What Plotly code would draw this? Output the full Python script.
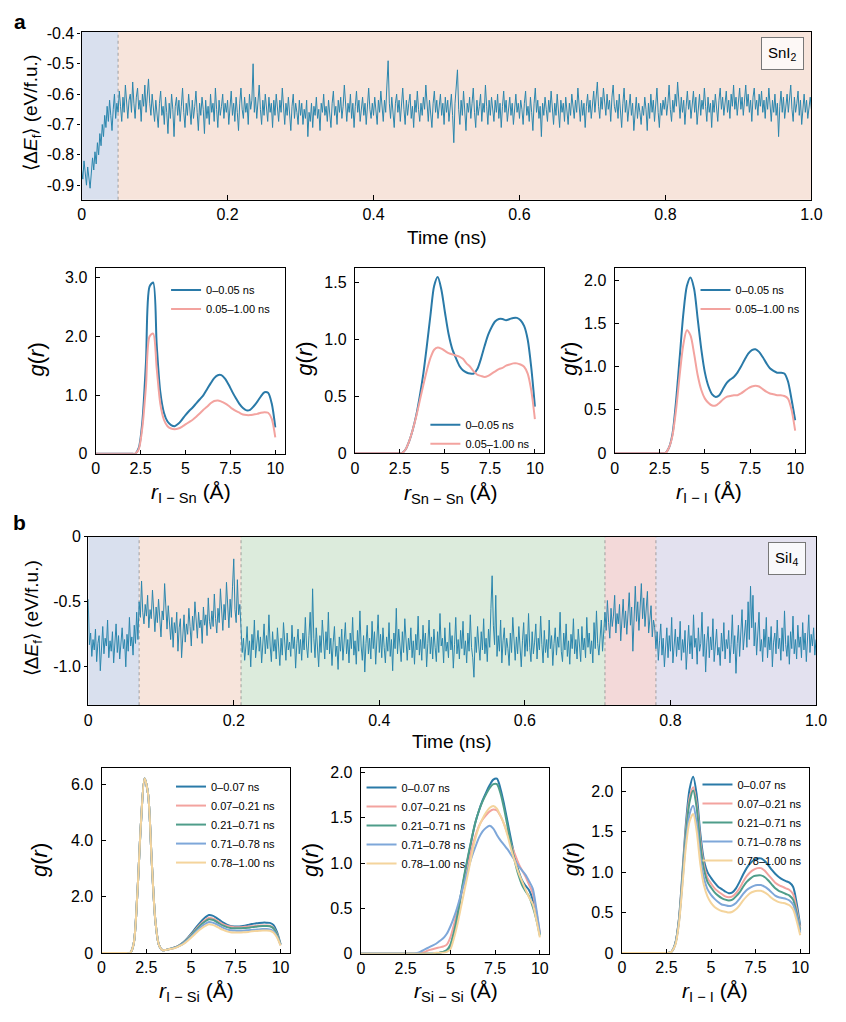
import numpy as np
import plotly.graph_objects as go

W, H = 846, 1022

# ------------------------------------------------------------------ data
# Panel a: SnI2 formation energy trace (eV/f.u.), sampled every 1/600 ns
E_SNI2_EQ = [
    -0.85, -0.88, -0.82, -0.87, -0.90, -0.84, -0.89, -0.91, -0.86, -0.81, -0.85, -0.79, -0.83, -0.76, -0.80, -0.73, -0.77, -0.70, -0.74, -0.67,
    -0.71, -0.64, -0.69, -0.62, -0.67, -0.72, -0.65, -0.60, -0.68, -0.63]
E_SNI2_PROD = [
    -0.66, -0.59, -0.64, -0.69, -0.61, -0.66, -0.57, -0.63, -0.68, -0.62,
    -0.60, -0.66, -0.56, -0.63, -0.68, -0.61, -0.58, -0.65, -0.62, -0.69, -0.60, -0.64, -0.57, -0.66, -0.61, -0.55, -0.63, -0.67, -0.60, -0.64,
    -0.69, -0.62, -0.66, -0.71, -0.63, -0.59, -0.67, -0.64, -0.70, -0.61, -0.66, -0.73, -0.63, -0.68, -0.60, -0.65, -0.74, -0.64, -0.61, -0.67,
    -0.62, -0.69, -0.64, -0.58, -0.66, -0.71, -0.63, -0.67, -0.60, -0.65, -0.70, -0.62, -0.68, -0.64, -0.59, -0.66, -0.72, -0.63, -0.67, -0.61,
    -0.65, -0.73, -0.62, -0.68, -0.64, -0.70, -0.60, -0.66, -0.63, -0.69, -0.58, -0.65, -0.71, -0.62, -0.67, -0.64, -0.60, -0.68, -0.63, -0.66,
    -0.62, -0.70, -0.64, -0.59, -0.67, -0.63, -0.69, -0.61, -0.66, -0.72, -0.63, -0.58, -0.65, -0.68, -0.61, -0.66, -0.63, -0.70, -0.60, -0.65,
    -0.62, -0.50, -0.66, -0.61, -0.68, -0.63, -0.57, -0.65, -0.70, -0.62, -0.67, -0.60, -0.64, -0.69, -0.61, -0.66, -0.63, -0.71, -0.62, -0.67,
    -0.60, -0.65, -0.69, -0.62, -0.66, -0.58, -0.64, -0.70, -0.63, -0.67, -0.61, -0.66, -0.72, -0.64, -0.60, -0.68, -0.63, -0.66, -0.70, -0.62,
    -0.67, -0.63, -0.70, -0.65, -0.68, -0.62, -0.74, -0.66, -0.69, -0.63, -0.71, -0.64, -0.67, -0.61, -0.68, -0.65, -0.72, -0.63, -0.66, -0.60,
    -0.67, -0.64, -0.69, -0.62, -0.66, -0.71, -0.63, -0.59, -0.67, -0.64, -0.70, -0.62, -0.66, -0.61, -0.68, -0.64, -0.57, -0.65, -0.69, -0.63,
    -0.66, -0.60, -0.68, -0.63, -0.71, -0.64, -0.59, -0.66, -0.62, -0.69, -0.64, -0.61, -0.67, -0.63, -0.70, -0.62, -0.58, -0.65, -0.68, -0.63,
    -0.67, -0.61, -0.65, -0.70, -0.62, -0.66, -0.59, -0.64, -0.69, -0.62, -0.66, -0.57, -0.49, -0.63, -0.68, -0.61, -0.66, -0.71, -0.63, -0.60,
    -0.66, -0.62, -0.69, -0.64, -0.58, -0.65, -0.70, -0.62, -0.67, -0.63, -0.60, -0.68, -0.64, -0.71, -0.62, -0.66, -0.59, -0.65, -0.69, -0.63,
    -0.67, -0.61, -0.65, -0.57, -0.64, -0.69, -0.62, -0.66, -0.71, -0.63, -0.59, -0.66, -0.62, -0.68, -0.64, -0.60, -0.67, -0.63, -0.70, -0.61,
    -0.66, -0.62, -0.69, -0.64, -0.60, -0.67, -0.76, -0.63, -0.58, -0.52, -0.65, -0.70, -0.62, -0.67, -0.59, -0.64, -0.72, -0.63, -0.66, -0.61,
    -0.68, -0.63, -0.58, -0.66, -0.71, -0.62, -0.67, -0.64, -0.60, -0.69, -0.63, -0.66, -0.57, -0.64, -0.70, -0.62, -0.67, -0.61, -0.65, -0.69,
    -0.62, -0.66, -0.60, -0.68, -0.63, -0.71, -0.64, -0.59, -0.66, -0.62, -0.69, -0.64, -0.61, -0.67, -0.63, -0.70, -0.65, -0.60, -0.66, -0.63,
    -0.68, -0.62, -0.65, -0.70, -0.63, -0.59, -0.67, -0.64, -0.69, -0.61, -0.66, -0.72, -0.63, -0.58, -0.66, -0.62, -0.68, -0.64, -0.74, -0.63,
    -0.67, -0.61, -0.65, -0.69, -0.62, -0.66, -0.59, -0.64, -0.70, -0.63, -0.67, -0.60, -0.65, -0.71, -0.62, -0.66, -0.63, -0.69, -0.61, -0.65,
    -0.70, -0.63, -0.67, -0.60, -0.65, -0.68, -0.62, -0.66, -0.58, -0.64, -0.69, -0.62, -0.67, -0.63, -0.71, -0.64, -0.60, -0.66, -0.62, -0.68,
    -0.63, -0.59, -0.66, -0.61, -0.56, -0.64, -0.68, -0.61, -0.65, -0.58, -0.63, -0.67, -0.60, -0.65, -0.62, -0.69, -0.61, -0.57, -0.64, -0.66,
    -0.62, -0.68, -0.60, -0.65, -0.71, -0.63, -0.58, -0.66, -0.62, -0.69, -0.64, -0.60, -0.67, -0.63, -0.72, -0.65, -0.61, -0.68, -0.63, -0.66,
    -0.70, -0.64, -0.67, -0.61, -0.65, -0.72, -0.63, -0.68, -0.60, -0.66, -0.62, -0.69, -0.64, -0.58, -0.66, -0.71, -0.63, -0.67, -0.62, -0.65,
    -0.61, -0.67, -0.63, -0.57, -0.65, -0.69, -0.62, -0.66, -0.60, -0.64, -0.56, -0.63, -0.68, -0.61, -0.66, -0.62, -0.70, -0.64, -0.59, -0.65,
    -0.62, -0.68, -0.63, -0.59, -0.66, -0.61, -0.70, -0.64, -0.60, -0.67, -0.62, -0.65, -0.58, -0.64, -0.69, -0.61, -0.66, -0.63, -0.71, -0.62,
    -0.66, -0.60, -0.64, -0.69, -0.62, -0.58, -0.65, -0.61, -0.67, -0.63, -0.59, -0.66, -0.62, -0.68, -0.60, -0.64, -0.57, -0.65, -0.61, -0.67,
    -0.62, -0.58, -0.65, -0.61, -0.67, -0.63, -0.57, -0.64, -0.60, -0.66, -0.62, -0.69, -0.61, -0.58, -0.65, -0.62, -0.67, -0.60, -0.64, -0.59,
    -0.66, -0.62, -0.68, -0.61, -0.65, -0.58, -0.64, -0.69, -0.62, -0.66, -0.60, -0.67, -0.63, -0.74, -0.64, -0.59, -0.66, -0.61, -0.68, -0.63,
    -0.60, -0.66, -0.62, -0.57, -0.65, -0.69, -0.61, -0.66, -0.63, -0.59, -0.67, -0.62, -0.70, -0.64, -0.60, -0.66, -0.62, -0.68, -0.63, -0.61,
    -0.65]
SNI2_BOUNDS = [0.0, 0.05, 1.0]
SNI2_PHASE_COLORS = ["#d9e0ee", "#f7e4db"]

# Panel b: SiI4 formation energy trace (eV/f.u.), one list per phase, every 1/600 ns
E_SII4_PH1 = [
    -0.48, -0.83, -0.74, -0.92, -0.79, -0.87, -0.71, -0.96, -0.82, -0.76, -1.03, -0.85, -0.69, -0.90, -0.78, -0.84, -0.64, -0.93, -0.80, -0.88,
    -0.73, -0.97, -0.81, -0.67, -0.89, -0.76, -0.94, -0.83, -0.70, -0.86, -0.79, -1.00, -0.75, -0.88, -0.62, -0.84, -0.77, -0.91, -0.68, -0.82,
    -0.58, -0.79]
E_SII4_PH2 = [
    -0.50, -0.62, -0.34, -0.58, -0.67, -0.52, -0.61, -0.45, -0.70, -0.56, -0.63, -0.41, -0.59, -0.73, -0.54, -0.66, -0.48, -0.60, -0.77, -0.57,
    -0.64, -0.36, -0.60, -0.71, -0.53, -0.68, -0.79, -0.62, -0.85, -0.66, -0.74, -0.58, -0.88, -0.70, -0.63, -0.93, -0.72, -0.60, -0.81, -0.67,
    -0.75, -0.55, -0.69, -0.84, -0.61, -0.72, -0.50, -0.66, -0.78, -0.58, -0.70, -0.64, -0.82, -0.54, -0.68, -0.60, -0.76, -0.47, -0.65, -0.71,
    -0.57, -0.69, -0.44, -0.63, -0.74, -0.55, -0.66, -0.40, -0.61, -0.72, -0.52, -0.64, -0.35, -0.59, -0.70, -0.48, -0.62, -0.38, -0.17, -0.56,
    -0.66, -0.33, -0.60, -0.52]
E_SII4_PH3 = [
    -0.72, -0.89, -0.78, -0.95, -0.84, -0.69, -0.91, -0.80, -1.00, -0.75, -0.87, -0.64, -0.93, -0.81, -0.72, -0.88, -0.77, -0.97, -0.83, -0.67,
    -0.90, -0.76, -0.86, -0.60, -0.84, -0.96, -0.73, -0.88, -0.79, -0.94, -0.70, -0.85, -0.99, -0.78, -0.91, -0.66, -0.83, -0.95, -0.74, -0.87,
    -0.81, -0.92, -0.68, -0.86, -0.77, -1.01, -0.82, -0.71, -0.90, -0.79, -0.95, -0.74, -0.87, -0.62, -0.84, -0.93, -0.76, -0.58, -0.89, -0.40,
    -0.78, -0.93, -0.70, -0.85, -1.00, -0.76, -0.89, -0.64, -0.82, -0.94, -0.73, -0.87, -0.58, -0.90, -0.78, -0.99, -0.81, -0.69, -0.92, -0.84,
    -1.02, -0.77, -0.88, -0.71, -0.95, -0.83, -0.66, -0.90, -0.79, -0.97, -0.74, -0.86, -0.62, -0.91, -0.80, -0.98, -0.72, -0.88, -0.57, -0.84,
    -0.95, -0.76, -1.04, -0.82, -0.68, -0.90, -0.78, -0.94, -0.65, -0.86, -0.73, -0.98, -0.81, -0.60, -0.89, -0.75, -0.93, -0.70, -0.85, -0.97,
    -0.77, -0.88, -0.66, -0.92, -0.79, -1.03, -0.74, -0.86, -0.55, -0.90, -0.71, -0.84, -0.96, -0.73, -0.89, -0.63, -0.83, -0.95, -0.78, -0.87,
    -0.70, -0.93, -0.80, -0.98, -0.75, -0.87, -0.61, -0.91, -0.79, -0.95, -0.68, -0.86, -0.74, -1.00, -0.82, -0.64, -0.90, -0.77, -0.94, -0.71,
    -0.85, -0.96, -0.73, -0.89, -0.59, -0.84, -0.78, -0.97, -0.70, -0.88, -0.81, -0.93, -0.66, -0.87, -0.76, -1.01, -0.83, -0.62, -0.90, -0.79,
    -0.94, -0.72, -0.86, -0.65, -0.91, -0.80, -0.97, -0.74, -0.88, -0.60, -0.85, -0.93, -1.08, -0.77, -0.89, -0.69, -0.84, -0.95, -0.73, -0.87,
    -0.63, -0.90, -0.78, -0.96, -0.71, -0.85, -0.55, -0.30, -0.68, -0.83, -0.45, -0.92, -0.76, -0.88, -0.64, -0.97, -0.80, -0.70, -0.91, -0.78,
    -0.86, -0.99, -0.74, -0.89, -0.62, -0.84, -0.95, -0.77, -0.90, -0.69, -0.86, -1.00, -0.80, -0.66, -0.92, -0.75, -0.88, -0.59, -0.85, -0.96,
    -0.73, -0.90, -0.81, -0.67, -0.94, -0.78, -0.87, -0.61, -0.83, -0.97, -0.72, -0.89, -0.79, -0.93, -0.64, -0.86, -0.76, -0.99, -0.82, -0.70,
    -0.91, -0.77, -0.85, -0.58, -0.88, -0.96, -0.74, -0.87, -0.67, -0.92, -0.80, -0.98, -0.75, -0.86, -0.63, -0.90, -0.79, -0.94, -0.71, -0.84,
    -0.96, -0.69, -0.87, -0.78, -0.93, -0.62, -0.85, -0.74, -0.90, -0.80, -0.97, -0.66, -0.86, -0.57, -0.82, -0.91, -0.72, -0.64, -0.88, -0.76]
E_SII4_PH4 = [
    -0.58, -0.72, -0.49, -0.66, -0.78, -0.55, -0.69, -0.61, -0.45, -0.74, -0.59, -0.67, -0.52, -0.80, -0.63, -0.48, -0.70, -0.57, -0.75, -0.62,
    -0.43, -0.68, -0.54, -0.88, -0.60, -0.38, -0.65, -0.50, -0.72, -0.56, -0.36, -0.63, -0.47, -0.69, -0.58, -0.42, -0.74, -0.61, -0.53, -0.77,
    -0.64, -0.70]
E_SII4_PH5 = [
    -0.86, -0.73, -0.95, -0.80, -0.67, -0.91, -0.78, -1.00, -0.84, -0.70, -0.93, -0.76, -0.88, -0.62, -0.97, -0.81, -0.71, -0.92, -0.77, -0.87,
    -0.65, -0.95, -0.79, -0.89, -0.72, -1.02, -0.83, -0.68, -0.90, -0.76, -0.94, -0.60, -0.85, -0.78, -0.98, -0.70, -0.88, -0.82, -0.58, -0.92,
    -0.75, -1.04, -0.81, -0.69, -0.93, -0.77, -0.87, -0.63, -0.96, -0.80, -0.71, -0.91, -0.85, -0.99, -0.74, -0.88, -0.66, -0.94, -0.79, -0.86,
    -0.72, -0.97, -0.83, -0.60, -0.90, -0.76, -1.05, -0.82, -0.68, -0.92, -0.78, -0.56, -0.87, -0.73, -0.64, -0.85, -0.50, -0.79, -0.38, -0.70,
    -0.45, -0.84, -0.66, -0.91, -0.75, -0.58, -0.88, -0.79, -0.96, -0.71, -0.85, -0.62, -0.93, -0.77, -0.87, -0.69, -1.00, -0.81, -0.74, -0.90,
    -0.64, -0.86, -0.78, -0.95, -0.70, -0.88, -0.57, -0.83, -0.92, -0.76, -0.98, -0.73, -0.86, -0.61, -0.90, -0.79, -0.94, -0.68, -0.85, -0.77,
    -0.93, -0.66, -0.87, -0.74, -0.96, -0.80, -0.60, -0.89, -0.75, -0.84, -0.70, -0.91, -0.79]
SII4_BOUNDS = [0.0, 0.07, 0.21, 0.71, 0.78, 1.0]
SII4_PHASE_COLORS = ["#d9e0ee", "#f7e4db", "#dcebdc", "#f3d9d9", "#e3e1ef"]

# Radial distribution functions, r = 0 ... 10 Angstrom
R = [0.0, 0.2, 0.4, 0.6, 0.8, 1.0, 1.2, 1.4, 1.6, 1.8,
     2.0, 2.2, 2.4, 2.6, 2.8, 3.0, 3.2, 3.4, 3.6, 3.8,
     4.0, 4.2, 4.4, 4.6, 4.8, 5.0, 5.2, 5.4, 5.6, 5.8,
     6.0, 6.2, 6.4, 6.6, 6.8, 7.0, 7.2, 7.4, 7.6, 7.8,
     8.0, 8.2, 8.4, 8.6, 8.8, 9.0, 9.2, 9.4, 9.6, 9.8, 10.0]
Z10 = [0.0] * 10

# SnI2
G_ISN_A = Z10 + [0, 0, 0.10, 0.55, 1.55, 2.85, 2.92, 1.85, 1.05, 0.70,
                 0.55, 0.49, 0.47, 0.51, 0.58, 0.66, 0.73, 0.79, 0.86, 0.93,
                 1.00, 1.10, 1.20, 1.29, 1.34, 1.34, 1.28, 1.18, 1.06, 0.95,
                 0.85, 0.78, 0.74, 0.75, 0.81, 0.89, 0.98, 1.05, 1.04, 0.86, 0.45]
G_ISN_B = Z10 + [0, 0, 0.08, 0.45, 1.15, 2.00, 2.05, 1.45, 0.85, 0.58,
                 0.47, 0.43, 0.42, 0.43, 0.46, 0.50, 0.54, 0.58, 0.63, 0.69,
                 0.75, 0.80, 0.86, 0.90, 0.91, 0.89, 0.86, 0.82, 0.77, 0.73,
                 0.70, 0.67, 0.66, 0.66, 0.67, 0.68, 0.70, 0.71, 0.70, 0.60, 0.28]
G_SNSN_A = Z10 + [0, 0, 0, 0, 0.03, 0.10, 0.20, 0.33, 0.50, 0.70,
                  0.95, 1.22, 1.47, 1.55, 1.44, 1.24, 1.05, 0.92, 0.84, 0.77,
                  0.73, 0.71, 0.70, 0.70, 0.74, 0.83, 0.94, 1.04, 1.11, 1.16,
                  1.18, 1.18, 1.17, 1.18, 1.19, 1.19, 1.17, 1.12, 1.00, 0.75, 0.41]
G_SNSN_B = Z10 + [0, 0, 0, 0, 0.03, 0.10, 0.20, 0.32, 0.46, 0.60,
                  0.73, 0.84, 0.91, 0.93, 0.92, 0.90, 0.88, 0.87, 0.86, 0.85,
                  0.83, 0.79, 0.76, 0.72, 0.69, 0.68, 0.67, 0.68, 0.70, 0.72,
                  0.74, 0.75, 0.77, 0.78, 0.79, 0.79, 0.78, 0.76, 0.70, 0.55, 0.30]
G_II1_A = Z10 + [0, 0, 0, 0, 0, 0.06, 0.22, 0.60, 1.10, 1.60,
                 1.93, 2.03, 1.90, 1.55, 1.20, 0.93, 0.77, 0.68, 0.65, 0.67,
                 0.74, 0.81, 0.85, 0.88, 0.93, 1.00, 1.08, 1.15, 1.19, 1.20,
                 1.17, 1.11, 1.04, 0.98, 0.95, 0.93, 0.93, 0.92, 0.83, 0.62, 0.38]
G_II1_B = Z10 + [0, 0, 0, 0, 0, 0.06, 0.20, 0.50, 0.90, 1.25,
                 1.42, 1.36, 1.15, 0.90, 0.73, 0.63, 0.58, 0.55, 0.55, 0.58,
                 0.62, 0.65, 0.66, 0.67, 0.67, 0.69, 0.72, 0.75, 0.77, 0.78,
                 0.77, 0.74, 0.71, 0.69, 0.68, 0.67, 0.67, 0.66, 0.63, 0.50, 0.26]

# SiI4
ISI_HEAD = [0, 0, 0, 0, 0, 0, 0, 0, 0.0, 0.35,
            2.10, 4.60, 6.20, 5.65, 3.30, 1.20, 0.30, 0.10, 0.11, 0.14]
G_ISI_1 = ISI_HEAD + [0.18, 0.23, 0.30, 0.40, 0.53, 0.68, 0.84, 1.00, 1.15, 1.27,
                      1.35, 1.33, 1.26, 1.17, 1.08, 1.01, 0.96, 0.94, 0.94, 0.95,
                      0.97, 1.00, 1.03, 1.05, 1.07, 1.08, 1.08, 1.07, 1.00, 0.75, 0.32]
G_ISI_2 = ISI_HEAD + [0.18, 0.23, 0.29, 0.38, 0.50, 0.64, 0.79, 0.94, 1.07, 1.18,
                      1.25, 1.23, 1.17, 1.09, 1.02, 0.97, 0.94, 0.92, 0.92, 0.92,
                      0.93, 0.94, 0.95, 0.96, 0.97, 0.98, 0.98, 0.97, 0.90, 0.68, 0.30]
G_ISI_3 = ISI_HEAD + [0.18, 0.22, 0.28, 0.37, 0.49, 0.62, 0.76, 0.90, 1.03, 1.13,
                      1.20, 1.18, 1.12, 1.04, 0.97, 0.92, 0.89, 0.88, 0.88, 0.88,
                      0.89, 0.90, 0.92, 0.93, 0.95, 0.96, 0.96, 0.95, 0.88, 0.66, 0.30]
G_ISI_4 = ISI_HEAD + [0.17, 0.21, 0.27, 0.35, 0.46, 0.58, 0.71, 0.84, 0.95, 1.04,
                      1.10, 1.08, 1.03, 0.96, 0.89, 0.84, 0.81, 0.80, 0.79, 0.79,
                      0.80, 0.81, 0.82, 0.83, 0.84, 0.85, 0.85, 0.84, 0.78, 0.60, 0.28]
G_ISI_5 = ISI_HEAD + [0.16, 0.20, 0.26, 0.33, 0.43, 0.54, 0.66, 0.78, 0.88, 0.96,
                      1.02, 1.00, 0.95, 0.88, 0.82, 0.77, 0.74, 0.73, 0.73, 0.73,
                      0.74, 0.75, 0.77, 0.78, 0.79, 0.80, 0.80, 0.79, 0.73, 0.56, 0.26]

G_SISI_1 = Z10 + [0] * 10 + [0, 0, 0.01, 0.02, 0.03, 0.08, 0.22, 0.40, 0.65, 0.87,
                             1.07, 1.27, 1.45, 1.58, 1.69, 1.78, 1.86, 1.92, 1.93, 1.82,
                             1.65, 1.45, 1.25, 1.07, 0.92, 0.81, 0.75, 0.70, 0.60, 0.42, 0.22]
G_SISI_2 = Z10 + [0, 0, 0, 0, 0, 0, 0, 0.01, 0.02, 0.04,
                  0.05, 0.06, 0.07, 0.08, 0.10, 0.18, 0.32, 0.48, 0.65, 0.80,
                  0.98, 1.16, 1.30, 1.41, 1.48, 1.53, 1.57, 1.59, 1.58, 1.52,
                  1.43, 1.32, 1.20, 1.10, 1.00, 0.92, 0.85, 0.76, 0.67, 0.47, 0.23]
G_SISI_3 = Z10 + [0] * 10 + [0, 0, 0.01, 0.02, 0.04, 0.10, 0.24, 0.43, 0.67, 0.89,
                             1.09, 1.28, 1.45, 1.58, 1.68, 1.76, 1.83, 1.87, 1.87, 1.77,
                             1.60, 1.40, 1.20, 1.02, 0.87, 0.76, 0.69, 0.63, 0.52, 0.38, 0.20]
G_SISI_4 = Z10 + [0, 0, 0, 0, 0, 0, 0.01, 0.03, 0.05, 0.07,
                  0.09, 0.11, 0.14, 0.17, 0.22, 0.30, 0.40, 0.52, 0.66, 0.80,
                  0.94, 1.07, 1.18, 1.28, 1.35, 1.39, 1.41, 1.38, 1.31, 1.25,
                  1.20, 1.15, 1.09, 1.03, 0.97, 0.92, 0.87, 0.80, 0.72, 0.50, 0.23]
G_SISI_5 = Z10 + [0] * 10 + [0, 0.01, 0.01, 0.01, 0.02, 0.05, 0.17, 0.33, 0.52, 0.71,
                             0.90, 1.10, 1.27, 1.40, 1.49, 1.56, 1.61, 1.63, 1.60, 1.52,
                             1.43, 1.30, 1.15, 1.02, 0.90, 0.80, 0.71, 0.62, 0.55, 0.38, 0.18]

G_II2_1 = Z10 + [0, 0, 0, 0, 0.02, 0.12, 0.42, 1.00, 1.62, 2.03,
                 2.18, 1.95, 1.48, 1.15, 1.00, 0.93, 0.87, 0.82, 0.79, 0.76,
                 0.74, 0.75, 0.80, 0.88, 0.97, 1.05, 1.11, 1.15, 1.17, 1.17,
                 1.14, 1.09, 1.03, 0.98, 0.94, 0.91, 0.89, 0.87, 0.82, 0.62, 0.34]
G_II2_2 = Z10 + [0, 0, 0, 0, 0.02, 0.12, 0.41, 0.97, 1.55, 1.92,
                 2.05, 1.84, 1.40, 1.09, 0.93, 0.86, 0.80, 0.76, 0.73, 0.70,
                 0.69, 0.70, 0.74, 0.80, 0.88, 0.95, 1.00, 1.03, 1.05, 1.05,
                 1.02, 0.97, 0.92, 0.87, 0.84, 0.82, 0.80, 0.78, 0.73, 0.55, 0.30]
G_II2_3 = Z10 + [0, 0, 0, 0, 0.02, 0.12, 0.40, 0.94, 1.50, 1.87,
                 2.01, 1.79, 1.34, 1.04, 0.88, 0.81, 0.75, 0.71, 0.68, 0.66,
                 0.65, 0.66, 0.70, 0.75, 0.82, 0.88, 0.92, 0.95, 0.96, 0.96,
                 0.94, 0.90, 0.85, 0.80, 0.77, 0.75, 0.73, 0.71, 0.66, 0.50, 0.28]
G_II2_4 = Z10 + [0, 0, 0, 0, 0.02, 0.11, 0.38, 0.88, 1.40, 1.72,
                 1.82, 1.60, 1.19, 0.93, 0.79, 0.72, 0.67, 0.63, 0.60, 0.59,
                 0.58, 0.59, 0.62, 0.67, 0.73, 0.78, 0.81, 0.83, 0.84, 0.84,
                 0.82, 0.79, 0.75, 0.71, 0.69, 0.68, 0.67, 0.65, 0.60, 0.46, 0.25]
G_II2_5 = Z10 + [0, 0, 0, 0, 0.02, 0.10, 0.36, 0.84, 1.33, 1.63,
                 1.72, 1.50, 1.10, 0.84, 0.70, 0.62, 0.57, 0.54, 0.52, 0.51,
                 0.50, 0.51, 0.54, 0.59, 0.65, 0.70, 0.74, 0.76, 0.77, 0.77,
                 0.75, 0.72, 0.68, 0.65, 0.63, 0.62, 0.61, 0.59, 0.54, 0.40, 0.22]

SNI2_LABELS = ["0\u20130.05 ns", "0.05\u20131.00 ns"]
SII4_LABELS = ["0\u20130.07 ns", "0.07\u20130.21 ns", "0.21\u20130.71 ns",
               "0.71\u20130.78 ns", "0.78\u20131.00 ns"]
GR_COLORS = ["#2a7aa8", "#f3a39f", "#4f9d8a", "#7ea7d9", "#f4d49c"]
TRACE_COLOR = "#2b86ad"

# ------------------------------------------------------------------ layout helpers
def px(x):
    return x / W


def py(y):
    return 1 - y / H


def sfx(n):
    return "" if n == 1 else str(n)


FONT = "Liberation Sans, Arial, Helvetica, sans-serif"
fig = go.Figure()

# pixel boxes of each panel (left, right, top, bottom)
BOXES = {
    1: (79, 822, 24, 195),
    2: (93.3, 285.7, 264.3, 453.3),
    3: (357.3, 550, 264.3, 452.7),
    4: (621.7, 815, 264.3, 452.7),
    5: (85.7, 826.7, 537.7, 709),
    6: (99.3, 291, 772.7, 961),
    7: (363.3, 555, 772.7, 961.7),
    8: (629, 820, 772.7, 961),
}

axis_common = dict(showline=True, linecolor="black", linewidth=1.3, mirror=True,
                   showgrid=False, zeroline=False, ticks="inside", ticklen=4,
                   tickwidth=1, tickcolor="black",
                   tickfont=dict(family=FONT, size=16, color="black"))

# ------------------------------------------------------------------ time series
def add_trace_panel(n, values, bounds, colors, yrange, yt, ytt):
    s = sfx(n)
    t = np.linspace(0.0, 1.0, len(values))
    fig.add_trace(go.Scatter(x=t, y=values, mode="lines",
                             line=dict(color=TRACE_COLOR, width=1.0),
                             xaxis=f"x{s}", yaxis=f"y{s}", showlegend=False))
    for i in range(len(bounds) - 1):
        fig.add_shape(type="rect", xref=f"x{s}", yref=f"y{s} domain",
                      x0=bounds[i], x1=bounds[i + 1], y0=0, y1=1,
                      fillcolor=colors[i], line_width=0, layer="below")
    for b in bounds[1:-1]:
        fig.add_shape(type="line", xref=f"x{s}", yref=f"y{s} domain",
                      x0=b, x1=b, y0=0, y1=1,
                      line=dict(color="#808080", width=0.7, dash="dot"), layer="below")
    x0, x1, y0, y1 = BOXES[n]
    fig.update_layout(**{
        f"xaxis{s}": dict(axis_common, domain=[px(x0), px(x1)], anchor=f"y{s}",
                          range=[0, 1], tickvals=[0, 0.2, 0.4, 0.6, 0.8, 1.0],
                          ticktext=["0", "0.2", "0.4", "0.6", "0.8", "1.0"], ticklen=5),
        f"yaxis{s}": dict(axis_common, domain=[py(y1), py(y0)], anchor=f"x{s}",
                          range=yrange, tickvals=yt, ticktext=ytt, ticks="outside",
                          ticklen=3),
    })


E_SNI2 = E_SNI2_EQ + E_SNI2_PROD
E_SII4 = E_SII4_PH1 + E_SII4_PH2 + E_SII4_PH3 + E_SII4_PH4 + E_SII4_PH5
add_trace_panel(1, E_SNI2, SNI2_BOUNDS, SNI2_PHASE_COLORS, [-0.948, -0.394],
                [-0.9, -0.8, -0.7, -0.6, -0.5, -0.4],
                ["-0.9", "-0.8", "-0.7", "-0.6", "-0.5", "-0.4"])
add_trace_panel(5, E_SII4, SII4_BOUNDS, SII4_PHASE_COLORS, [-1.295, 0.0],
                [-1.0, -0.5, 0.0], ["-1.0", "-0.5", "0"])

# ------------------------------------------------------------------ g(r) panels
def add_gr_panel(n, curves, labels, ymax, yt, ytt, legend_name, leg_x, leg_y):
    s = sfx(n)
    for k, (g, lab) in enumerate(zip(curves, labels)):
        fig.add_trace(go.Scatter(x=R, y=g, mode="lines", name=lab,
                                 line=dict(color=GR_COLORS[k], width=2, shape="spline",
                                           smoothing=0.8),
                                 xaxis=f"x{s}", yaxis=f"y{s}", legend=legend_name))
    x0, x1, y0, y1 = BOXES[n]
    fig.update_layout(**{
        f"xaxis{s}": dict(axis_common, domain=[px(x0), px(x1)], anchor=f"y{s}",
                          range=[0, 10.52], tickvals=[0, 2.5, 5, 7.5, 10],
                          ticktext=["0", "2.5", "5", "7.5", "10"]),
        f"yaxis{s}": dict(axis_common, domain=[py(y1), py(y0)], anchor=f"x{s}",
                          range=[0, ymax], tickvals=yt, ticktext=ytt,
                          ticklabelstandoff=4),
        legend_name: dict(x=px(leg_x), y=py(leg_y), xanchor="left", yanchor="top",
                          bgcolor="rgba(0,0,0,0)", borderwidth=0, itemwidth=30,
                          tracegroupgap=0,
                          font=dict(family=FONT, size=11, color="black")),
    })


add_gr_panel(2, [G_ISN_A, G_ISN_B], SNI2_LABELS, 3.17, [0, 1, 2, 3],
             ["0", "1.0", "2.0", "3.0"], "legend", 165, 272)
add_gr_panel(3, [G_SNSN_A, G_SNSN_B], SNI2_LABELS, 1.63, [0, 0.5, 1.0, 1.5],
             ["0", "0.5", "1.0", "1.5"], "legend2", 429, 409)
add_gr_panel(4, [G_II1_A, G_II1_B], SNI2_LABELS, 2.14, [0, 0.5, 1.0, 1.5, 2.0],
             ["0", "0.5", "1.0", "1.5", "2.0"], "legend3", 704, 272)
add_gr_panel(6, [G_ISI_1, G_ISI_2, G_ISI_3, G_ISI_4, G_ISI_5], SII4_LABELS, 6.58,
             [0, 2, 4, 6], ["0", "2.0", "4.0", "6.0"], "legend4", 170, 777)
add_gr_panel(7, [G_SISI_1, G_SISI_2, G_SISI_3, G_SISI_4, G_SISI_5], SII4_LABELS, 2.05,
             [0, 0.5, 1.0, 1.5, 2.0], ["0", "0.5", "1.0", "1.5", "2.0"], "legend5", 364, 778)
add_gr_panel(8, [G_II2_1, G_II2_2, G_II2_3, G_II2_4, G_II2_5], SII4_LABELS, 2.29,
             [0, 0.5, 1.0, 1.5, 2.0], ["0", "0.5", "1.0", "1.5", "2.0"], "legend6", 706, 775)

# ------------------------------------------------------------------ text
ann = []


def text(x, y, s, size, angle=0, **kw):
    ann.append(dict(x=px(x), y=py(y), xref="paper", yref="paper", text=s,
                    showarrow=False, textangle=angle, xanchor="center", yanchor="middle",
                    font=dict(family=FONT, size=size, color="black"), **kw))


EF = "\u27e8\u0394<i>E</i><sub>f</sub>\u27e9 (eV/f.u.)"
GR = "<i>g</i>(<i>r</i>)"
text(16, 14, "<b>a</b>", 21)
text(16, 523, "<b>b</b>", 21)
text(29, 106, EF, 19, -90)
text(29, 620, EF, 19, -90)
text(451, 233, "Time (ns)", 19)
text(456, 746, "Time (ns)", 19)
for xx, yy in [(33, 357), (305, 357), (575, 357), (36, 866), (312, 866), (578, 866)]:
    text(xx, yy, GR, 22, -90)
text(190, 493, "<i>r</i><sub>I \u2212 Sn</sub> (\u00c5)", 21)
text(455, 494, "<i>r</i><sub>Sn \u2212 Sn</sub> (\u00c5)", 21)
text(718, 493, "<i>r</i><sub>I \u2212 I</sub> (\u00c5)", 21)
text(196, 1001, "<i>r</i><sub>I \u2212 Si</sub> (\u00c5)", 21)
text(460, 1001, "<i>r</i><sub>Si \u2212 Si</sub> (\u00c5)", 21)
text(724, 1001, "<i>r</i><sub>I \u2212 I</sub> (\u00c5)", 21)
text(793, 46, "SnI<sub>2</sub>", 15, bordercolor="#777777", borderwidth=1,
     borderpad=6, bgcolor="rgba(255,255,255,0.75)")
text(797, 560, "SiI<sub>4</sub>", 15, bordercolor="#777777", borderwidth=1,
     borderpad=6, bgcolor="rgba(255,255,255,0.75)")

fig.update_layout(width=W, height=H, margin=dict(l=0, r=0, t=0, b=0),
                  paper_bgcolor="white", plot_bgcolor="white",
                  font=dict(family=FONT, color="black"), annotations=ann,
                  showlegend=True)

fig.write_html("out.html")
